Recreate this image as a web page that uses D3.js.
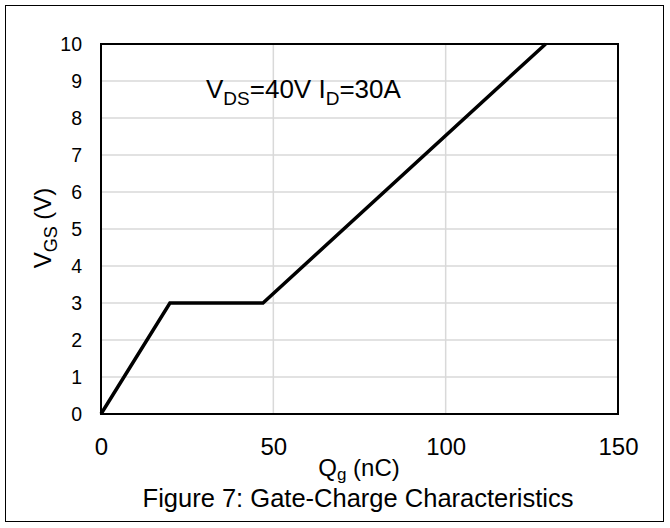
<!DOCTYPE html>
<html>
<head>
<meta charset="utf-8">
<script src="https://cdn.jsdelivr.net/npm/d3@7"></script>
<style>
body { margin: 0; background: #fff; }
text { font-family: "Liberation Sans", Arial, sans-serif; fill: #000; }
</style>
</head>
<body>
<svg id="chart" width="670" height="528"></svg>
<script>
// gate charge curve, Qg (nC) vs VGS (V)
var qg = [0, 20, 47, 129]
var vgs = [0, 3, 3, 10]
var xTicks = [0, 50, 100, 150]
var yTicks = [0, 1, 2, 3, 4, 5, 6, 7, 8, 9, 10]

var svg = d3.select("#chart")
var pLeft = 101, pRight = 618, pTop = 44, pBottom = 414

var x = d3.scaleLinear().domain([0, 150]).range([pLeft, pRight])
var y = d3.scaleLinear().domain([0, 10]).range([pBottom, pTop])

// outer frame
svg.append("rect")
	.attr("x", 5.5).attr("y", 5.5).attr("width", 658).attr("height", 516)
	.attr("fill", "none").attr("stroke", "#000").attr("stroke-width", 1)

// grid
svg.append("g").selectAll("line").data(yTicks)
	.enter().append("line")
		.attr("x1", pLeft).attr("x2", pRight)
		.attr("y1", function(d) { return y(d) }).attr("y2", function(d) { return y(d) })
		.attr("stroke", "#d9d9d9").attr("stroke-width", 1.5)
svg.append("g").selectAll("line").data(xTicks)
	.enter().append("line")
		.attr("x1", function(d) { return x(d) }).attr("x2", function(d) { return x(d) })
		.attr("y1", pTop).attr("y2", pBottom)
		.attr("stroke", "#d9d9d9").attr("stroke-width", 1.5)

// plot border
svg.append("rect")
	.attr("x", pLeft).attr("y", pTop).attr("width", pRight - pLeft).attr("height", pBottom - pTop)
	.attr("fill", "none").attr("stroke", "#000").attr("stroke-width", 2)

// axes labels (no tick marks)
var xAxis = d3.axisBottom(x).tickValues(xTicks).tickSize(0).tickPadding(24)
var gx = svg.append("g").attr("transform", "translate(0," + pBottom + ")").call(xAxis)
gx.select(".domain").remove()
gx.selectAll("text").style("font-size", "24px").style("font-family", "Liberation Sans, Arial, sans-serif")

var yAxis = d3.axisLeft(y).tickValues(yTicks).tickSize(0).tickPadding(19)
var gy = svg.append("g").attr("transform", "translate(" + pLeft + ",0)").call(yAxis)
gy.select(".domain").remove()
gy.selectAll("text").style("font-size", "19.5px").style("font-family", "Liberation Sans, Arial, sans-serif")

// curve
var line = d3.line()
	.x(function(d, i) { return x(qg[i]) })
	.y(function(d, i) { return y(vgs[i]) })
svg.append("path")
	.datum(qg)
	.attr("d", line)
	.attr("fill", "none").attr("stroke", "#000").attr("stroke-width", 3.5)
	.attr("stroke-linejoin", "miter")

// annotation
var ann = svg.append("text").attr("x", 206).attr("y", 98).style("font-size", "26px")
ann.append("tspan").text("V")
ann.append("tspan").text("DS").attr("dy", 7).style("font-size", "19px")
ann.append("tspan").text("=40V I").attr("dy", -7)
ann.append("tspan").text("D").attr("dy", 7).style("font-size", "19px")
ann.append("tspan").text("=30A").attr("dy", -7)

// y title
var yt = svg.append("text")
	.attr("transform", "translate(51,228) rotate(-90)")
	.attr("text-anchor", "middle").style("font-size", "24px")
yt.append("tspan").text("V")
yt.append("tspan").text("GS").attr("dy", 6).style("font-size", "18px")
yt.append("tspan").text(" (V)").attr("dy", -6)

// x title
var xt = svg.append("text").attr("x", 359).attr("y", 476)
	.attr("text-anchor", "middle").style("font-size", "24px")
xt.append("tspan").text("Q")
xt.append("tspan").text("g").attr("dy", 4).style("font-size", "17px")
xt.append("tspan").text(" (nC)").attr("dy", -4)

// caption
svg.append("text").attr("x", 358).attr("y", 507)
	.attr("text-anchor", "middle").style("font-size", "25.5px")
	.text("Figure 7: Gate-Charge Characteristics")
</script>
</body>
</html>
